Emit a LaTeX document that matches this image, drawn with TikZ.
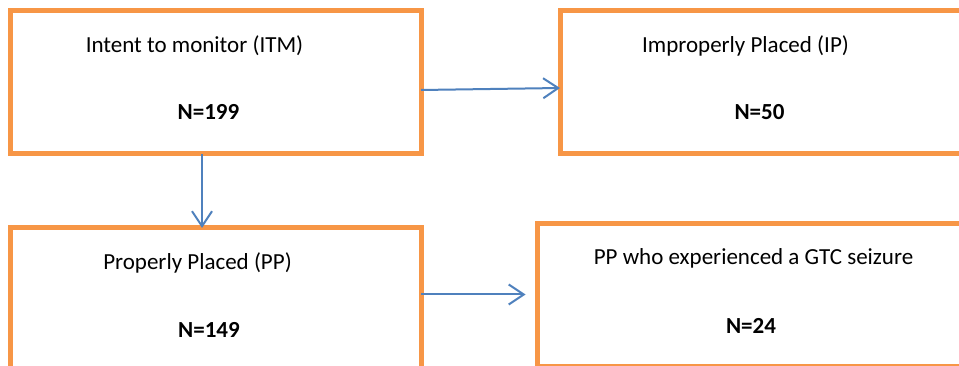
\documentclass[tikz,border=0pt]{standalone}
\usepackage{fontspec}
\setmainfont{Carlito}
\usetikzlibrary{arrows.meta}
\definecolor{boxorange}{HTML}{F79646}
\definecolor{arrblue}{HTML}{4F81BD}
\begin{document}
\begin{tikzpicture}[x=1pt,y=-1pt,
  box/.style={draw=boxorange, line width=5pt, inner sep=0pt, outer sep=0pt, rectangle},
  lbl/.style={anchor=base, inner sep=0pt, font=\fontsize{23pt}{27pt}\selectfont},
  nlbl/.style={anchor=base, inner sep=0pt, font=\fontsize{23pt}{27pt}\selectfont\bfseries},
  arr/.style={draw=arrblue, line width=2pt, -{Straight Barb[length=15pt,width=20pt,line width=2pt]}}]
\clip (0,0) rectangle (959,366);
\fill[white] (0,0) rectangle (959,366);
% boxes
\node[box, minimum width=410.5pt, minimum height=143.5pt] (itm) at (215.75,82.25) {};
\node[box, minimum width=410pt, minimum height=143.5pt] (ip) at (765,82.25) {};
\node[box, minimum width=410.5pt, minimum height=152pt] (pp) at (215.75,304) {};
\node[box, minimum width=437.5pt, minimum height=142.5pt] (gtc) at (756.25,295.25) {};
% texts
\node[lbl] (itmt) at (194.5,52.5) {Intent to monitor (ITM)};
\node[nlbl] (itmn) at (208.5,120) {N=199};
\node[lbl] (ipt) at (745.5,52.5) {Improperly Placed (IP)};
\node[nlbl] (ipn) at (759.5,120) {N=50};
\node[lbl] (ppt) at (197.5,270) {Properly Placed (PP)};
\node[nlbl] (ppn) at (209,337) {N=149};
\node[lbl] (gtct) at (753.5,264.5) {PP who experienced a GTC seizure};
\node[nlbl] (gtcn) at (751,333.5) {N=24};
% connectors
\draw[arr] ([yshift=-7.75pt]itm.east) -- ([yshift=-5.75pt]ip.west);
\draw[arr] ([xshift=-13.75pt]itm.south) -- ([xshift=-13.75pt]pp.north);
\draw[arr, shorten >=12pt] ([yshift=9.5pt]pp.east) -- ([yshift=9.5pt]pp.east -| gtc.west);
\end{tikzpicture}
\end{document}
